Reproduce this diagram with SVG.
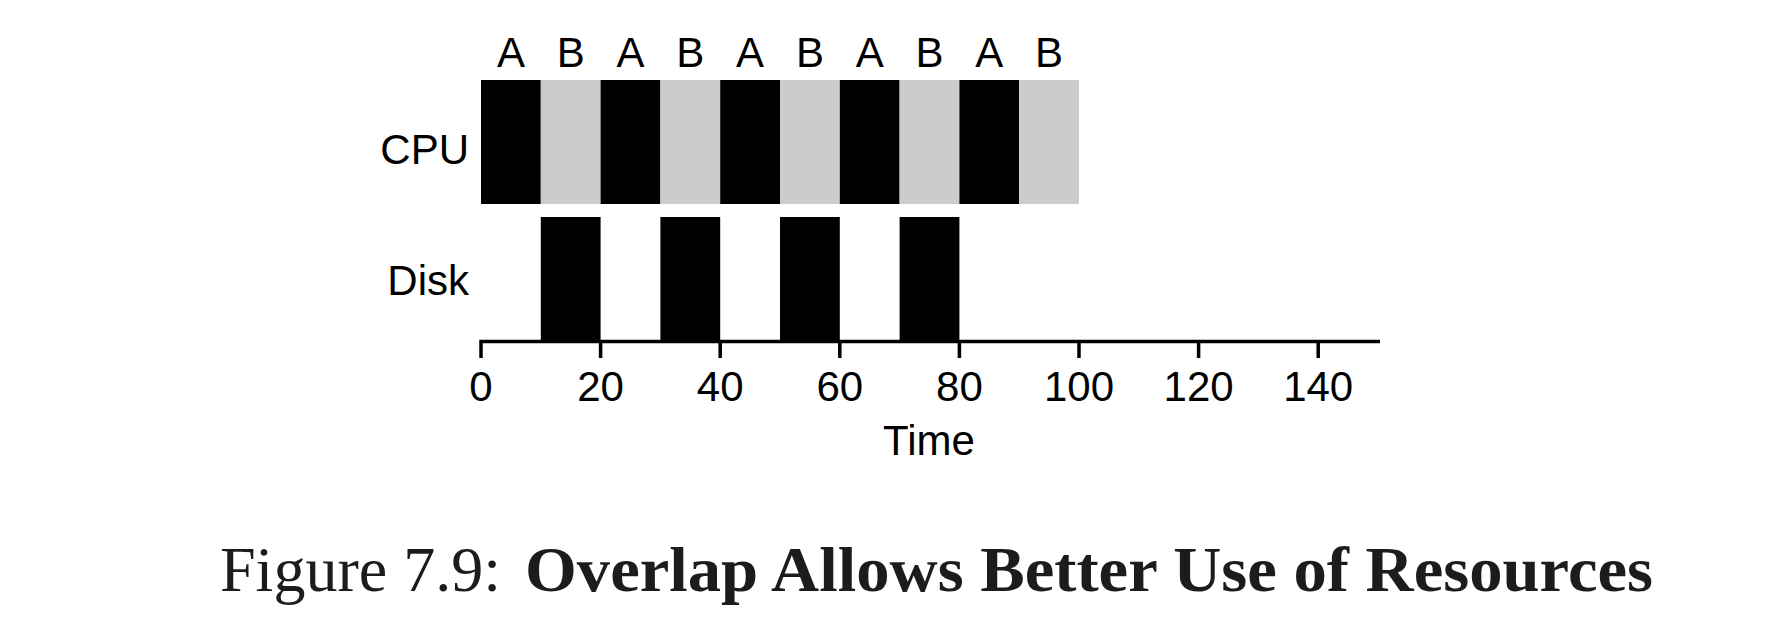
<svg xmlns="http://www.w3.org/2000/svg" width="1792" height="640" viewBox="0 0 1792 640">
  <style>
    .lbl { font-family: "Liberation Sans", Arial, sans-serif; font-size: 42px; fill: #000; }
    .mid { text-anchor: middle; }
    .end { text-anchor: end; }
    .a { fill: #000; }
    .b { fill: #cccccc; }
    .axis { fill: none; stroke: #000; stroke-width: 3.5; }
    .cap { font-family: "Liberation Serif", "Times New Roman", serif; font-size: 63px; fill: #1c1c1c; }
  </style>
  <rect width="1792" height="640" fill="#fff"/>

  <g id="cpu-row">
    <text class="lbl end" x="469" y="164">CPU</text>
    <rect class="a" x="481" y="80" width="59.8" height="124"/>
    <rect class="b" x="540.8" y="80" width="59.8" height="124"/>
    <rect class="a" x="600.6" y="80" width="59.8" height="124"/>
    <rect class="b" x="660.4" y="80" width="59.8" height="124"/>
    <rect class="a" x="720.2" y="80" width="59.8" height="124"/>
    <rect class="b" x="780" y="80" width="59.8" height="124"/>
    <rect class="a" x="839.8" y="80" width="59.8" height="124"/>
    <rect class="b" x="899.6" y="80" width="59.8" height="124"/>
    <rect class="a" x="959.4" y="80" width="59.8" height="124"/>
    <rect class="b" x="1019.2" y="80" width="59.8" height="124"/>
    <text class="lbl mid" x="510.9" y="67">A</text>
    <text class="lbl mid" x="570.7" y="67">B</text>
    <text class="lbl mid" x="630.5" y="67">A</text>
    <text class="lbl mid" x="690.3" y="67">B</text>
    <text class="lbl mid" x="750.1" y="67">A</text>
    <text class="lbl mid" x="809.9" y="67">B</text>
    <text class="lbl mid" x="869.7" y="67">A</text>
    <text class="lbl mid" x="929.5" y="67">B</text>
    <text class="lbl mid" x="989.3" y="67">A</text>
    <text class="lbl mid" x="1049.1" y="67">B</text>
  </g>

  <g id="disk-row">
    <text class="lbl end" x="469" y="295">Disk</text>
    <rect class="a" x="540.8" y="217" width="59.8" height="124"/>
    <rect class="a" x="660.4" y="217" width="59.8" height="124"/>
    <rect class="a" x="780" y="217" width="59.8" height="124"/>
    <rect class="a" x="899.6" y="217" width="59.8" height="124"/>
  </g>

  <g id="time-axis">
    <path class="axis" d="M481,358 V341.5 H1380 M600.6,341.5 V358 M720.2,341.5 V358 M839.8,341.5 V358 M959.4,341.5 V358 M1079,341.5 V358 M1198.6,341.5 V358 M1318.2,341.5 V358"/>
    <text class="lbl mid" x="481" y="401">0</text>
    <text class="lbl mid" x="600.6" y="401">20</text>
    <text class="lbl mid" x="720.2" y="401">40</text>
    <text class="lbl mid" x="839.8" y="401">60</text>
    <text class="lbl mid" x="959.4" y="401">80</text>
    <text class="lbl mid" x="1079" y="401">100</text>
    <text class="lbl mid" x="1198.6" y="401">120</text>
    <text class="lbl mid" x="1318.2" y="401">140</text>
    <text class="lbl mid" x="929" y="455">Time</text>
  </g>

  <g id="caption">
    <text class="cap" x="220" y="591" textLength="281" lengthAdjust="spacingAndGlyphs">Figure 7.9:</text>
    <text class="cap" x="525" y="591" font-weight="bold" textLength="1128" lengthAdjust="spacingAndGlyphs">Overlap Allows Better Use of Resources</text>
  </g>
</svg>
